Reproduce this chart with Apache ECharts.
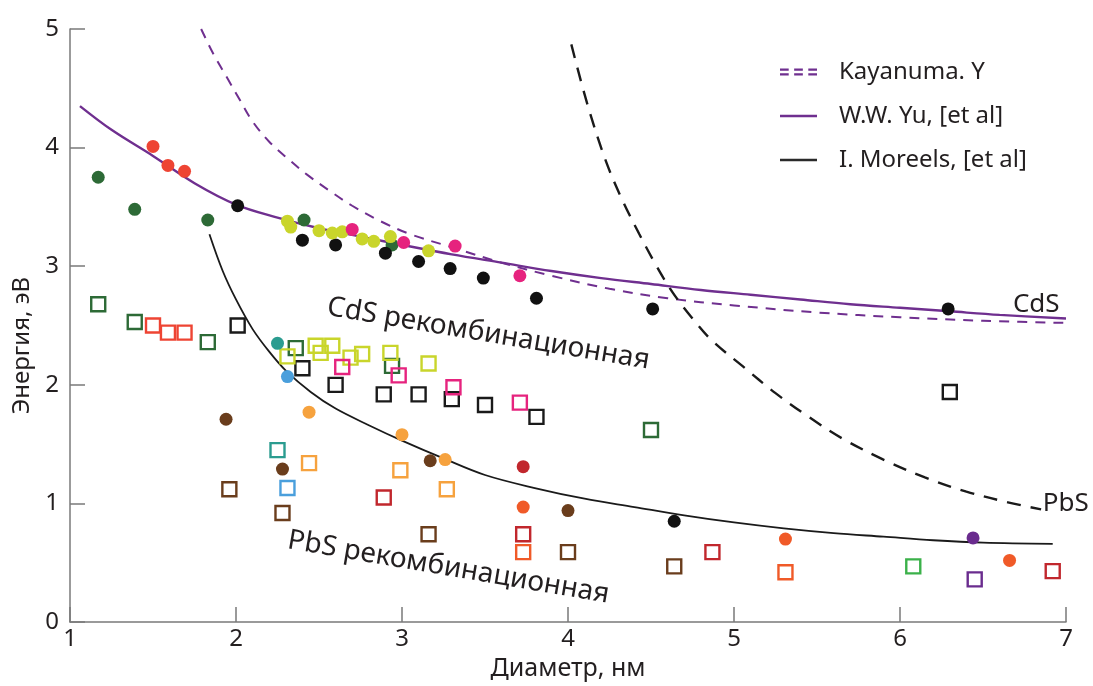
<!DOCTYPE html>
<html>
<head>
<meta charset="utf-8">
<script src="https://cdn.jsdelivr.net/npm/echarts@6/dist/echarts.min.js"></script>
<style>
  html, body { margin: 0; padding: 0; background: #ffffff; }
  #chart { width: 1093px; height: 686px; }
</style>
</head>
<body>
<div id="chart"></div>
<script>
// ---- Axis ticks ----
const xTicks = [1, 2, 3, 4, 5, 6, 7];
const yTicks = [0, 1, 2, 3, 4, 5];

// ---- Model curves ----
const yuCdS = [[1.06,4.35],[1.25,4.15],[1.5,3.93],[1.75,3.70],[2.0,3.52],[2.25,3.41],[2.5,3.32],[2.75,3.25],[3.0,3.18],[3.3,3.10],[3.6,3.03],[3.9,2.96],[4.2,2.90],[4.5,2.85],[4.8,2.80],[5.1,2.76],[5.4,2.72],[5.7,2.68],[6.0,2.65],[6.3,2.62],[6.6,2.59],[7.0,2.56]];
const kayanumaCdS = [[1.79,5.0],[1.86,4.80],[1.95,4.58],[2.02,4.41],[2.10,4.22],[2.20,4.05],[2.31,3.91],[2.43,3.77],[2.57,3.63],[2.70,3.51],[2.87,3.38],[3.05,3.27],[3.3,3.16],[3.6,3.03],[3.9,2.92],[4.25,2.81],[4.6,2.73],[5.0,2.67],[5.5,2.61],[6.0,2.57],[6.5,2.54],[7.07,2.52]];
const kayanumaPbS = [[4.02,4.87],[4.12,4.35],[4.23,3.88],[4.33,3.55],[4.43,3.27],[4.53,3.01],[4.63,2.78],[4.75,2.56],[4.87,2.37],[5.05,2.16],[5.25,1.93],[5.45,1.73],[5.65,1.55],[5.9,1.37],[6.15,1.22],[6.4,1.10],[6.65,1.01],[6.85,0.95]];
const moreelsPbS = [[1.84,3.27],[1.92,2.96],[2.0,2.72],[2.1,2.47],[2.2,2.28],[2.3,2.12],[2.45,1.94],[2.6,1.80],[2.8,1.66],[3.0,1.53],[3.25,1.38],[3.5,1.24],[3.8,1.13],[4.1,1.04],[4.4,0.97],[4.7,0.90],[5.0,0.84],[5.3,0.79],[5.6,0.75],[5.9,0.72],[6.2,0.69],[6.5,0.67],[6.92,0.66]];

// ---- Filled circles (CdS) ----
const dotsDarkGreen = [[1.17,3.75],[1.39,3.48],[1.83,3.39],[2.41,3.39],[2.94,3.18]];
const dotsRed = [[1.50,4.01],[1.59,3.85],[1.69,3.80]];
const dotsBlackCdS = [[2.01,3.51],[2.40,3.22],[2.60,3.18],[2.90,3.11],[3.10,3.04],[3.29,2.98],[3.49,2.90],[3.81,2.73],[4.51,2.64],[6.29,2.64]];
const dotsYellow = [[2.31,3.38],[2.33,3.33],[2.50,3.30],[2.58,3.28],[2.64,3.29],[2.76,3.23],[2.83,3.21],[2.93,3.25],[3.16,3.13]];
const dotsPink = [[2.70,3.31],[3.01,3.20],[3.32,3.17],[3.71,2.92]];
// ---- Filled circles (PbS) ----
const dotsTeal = [[2.25,2.35]];
const dotsBlue = [[2.31,2.07]];
const dotsLightOrange = [[2.44,1.77],[3.00,1.58],[3.26,1.37]];
const dotsBrown = [[1.94,1.71],[2.28,1.29],[3.17,1.36],[4.00,0.94]];
const dotsDarkRed = [[3.73,1.31]];
const dotsOrangeRed = [[3.73,0.97],[5.31,0.70],[6.66,0.52]];
const dotsBlackPbS = [[4.64,0.85]];
const dotsPurple = [[6.44,0.71]];

// ---- Open squares ----
const sqDarkGreen = [[1.17,2.68],[1.39,2.53],[1.83,2.36],[2.36,2.31],[2.94,2.16],[4.50,1.62]];
const sqRed = [[1.50,2.50],[1.59,2.44],[1.69,2.44]];
const sqBlack = [[2.01,2.50],[2.40,2.14],[2.60,2.00],[2.89,1.92],[3.10,1.92],[3.30,1.88],[3.50,1.83],[3.81,1.73],[6.30,1.94]];
const sqYellow = [[2.31,2.24],[2.48,2.33],[2.51,2.27],[2.58,2.33],[2.69,2.23],[2.76,2.26],[2.93,2.27],[3.16,2.18]];
const sqPink = [[2.64,2.15],[2.98,2.08],[3.31,1.98],[3.71,1.85]];
const sqTeal = [[2.25,1.45]];
const sqBlue = [[2.31,1.13]];
const sqLightOrange = [[2.44,1.34],[2.99,1.28],[3.27,1.12]];
const sqBrown = [[1.96,1.12],[2.28,0.92],[3.16,0.74],[4.00,0.59],[4.64,0.47]];
const sqDarkRed = [[2.89,1.05],[3.73,0.74],[4.87,0.59],[6.92,0.43]];
const sqOrangeRed = [[3.73,0.59],[5.31,0.42]];
const sqLightGreen = [[6.08,0.47]];
const sqPurple = [[6.45,0.36]];

// ---- Text ----
const legendNames = ['Kayanuma. Y', 'W.W. Yu, [et al]', 'I. Moreels, [et al]'];
const xAxisName = 'Диаметр, нм';
const yAxisName = 'Энергия, эВ';
const annotations = [
  { text: 'CdS рекомбинационная', at: [3.52, 2.43], rot: -9.5, align: 'center', size: 28 },
  { text: 'PbS рекомбинационная', at: [3.28, 0.46], rot: -9.7, align: 'center', size: 28 },
  { text: 'CdS', at: [6.68, 2.68], rot: 0, align: 'left', size: 26 },
  { text: 'PbS', at: [6.86, 1.00], rot: 0, align: 'left', size: 26 }
];

const FONT = 'Noto Sans';
const TXT = '#231f20';
const PURPLE = '#6f2f8f';

const chart = echarts.init(document.getElementById('chart'), null, { renderer: 'canvas' });

function dots(name, data, color) {
  return { name, type: 'scatter', data, symbol: 'circle', symbolSize: 13,
    itemStyle: { color, opacity: 1 }, z: 4, silent: true };
}
function squares(name, data, color) {
  return { name, type: 'scatter', data, symbol: 'rect', symbolSize: 14,
    itemStyle: { color: 'rgba(255,255,255,0)', borderColor: color, borderWidth: 2.4, opacity: 1 }, z: 3, silent: true };
}

const series = [
  { name: legendNames[0], type: 'line', data: kayanumaCdS, smooth: 0.35, symbol: 'none', clip: false,
    lineStyle: { color: PURPLE, width: 2, type: [10, 8] }, itemStyle: { color: PURPLE }, z: 2 },
  { name: legendNames[0] + ' PbS', type: 'line', data: kayanumaPbS, smooth: 0.35, symbol: 'none',
    lineStyle: { color: '#1a1a1a', width: 2.4, type: [14, 10] }, itemStyle: { color: '#1a1a1a' }, z: 2 },
  { name: legendNames[1], type: 'line', data: yuCdS, smooth: 0.35, symbol: 'none',
    lineStyle: { color: PURPLE, width: 2.4 }, itemStyle: { color: PURPLE }, z: 2 },
  { name: legendNames[2], type: 'line', data: moreelsPbS, smooth: 0.35, symbol: 'none',
    lineStyle: { color: '#1a1a1a', width: 1.8 }, itemStyle: { color: '#1a1a1a' }, z: 2 },

  squares('sqDarkGreen', sqDarkGreen, '#2d6a36'),
  squares('sqRed', sqRed, '#ee4433'),
  squares('sqBlack', sqBlack, '#1a1a1a'),
  squares('sqYellow', sqYellow, '#c9d52b'),
  squares('sqPink', sqPink, '#e6237e'),
  squares('sqTeal', sqTeal, '#2b9c90'),
  squares('sqBlue', sqBlue, '#4a9fdc'),
  squares('sqLightOrange', sqLightOrange, '#f6a23e'),
  squares('sqBrown', sqBrown, '#6a3d1c'),
  squares('sqDarkRed', sqDarkRed, '#c1272d'),
  squares('sqOrangeRed', sqOrangeRed, '#f05a28'),
  squares('sqLightGreen', sqLightGreen, '#3bb14a'),
  squares('sqPurple', sqPurple, '#6a2c8e'),

  dots('dotsDarkGreen', dotsDarkGreen, '#2d6a36'),
  dots('dotsRed', dotsRed, '#ee4433'),
  dots('dotsBlackCdS', dotsBlackCdS, '#111111'),
  dots('dotsYellow', dotsYellow, '#c9d52b'),
  dots('dotsPink', dotsPink, '#e6237e'),
  dots('dotsTeal', dotsTeal, '#2b9c90'),
  dots('dotsBlue', dotsBlue, '#4a9fdc'),
  dots('dotsLightOrange', dotsLightOrange, '#f6a23e'),
  dots('dotsBrown', dotsBrown, '#6a3d1c'),
  dots('dotsDarkRed', dotsDarkRed, '#c1272d'),
  dots('dotsOrangeRed', dotsOrangeRed, '#f05a28'),
  dots('dotsBlackPbS', dotsBlackPbS, '#111111'),
  dots('dotsPurple', dotsPurple, '#6a2c8e')
];

const option = {
  animation: false,
  backgroundColor: '#ffffff',
  textStyle: { fontFamily: FONT },
  grid: { left: 70, right: 27, top: 29, bottom: 57, containLabel: false },
  legend: {
    orient: 'vertical', left: 775, top: 52, itemWidth: 37, itemHeight: 14, itemGap: 14,
    selectedMode: false,
    textStyle: { fontFamily: FONT, fontSize: 24, color: TXT, lineHeight: 30, padding: [0, 0, 0, 17] },
    data: [
      { name: legendNames[0], icon: 'path://M0,0 H8 V2.2 H0 Z M13,0 H21 V2.2 H13 Z M26,0 H34 V2.2 H26 Z M0,4.4 H8 V6.6 H0 Z M13,4.4 H21 V6.6 H13 Z M26,4.4 H34 V6.6 H26 Z', itemStyle: { color: PURPLE } },
      { name: legendNames[1], icon: 'path://M0,0 H37 V2.5 H0 Z', itemStyle: { color: PURPLE } },
      { name: legendNames[2], icon: 'path://M0,0 H37 V2.5 H0 Z', itemStyle: { color: '#2a2a2a' } }
    ]
  },
  xAxis: {
    type: 'value', min: xTicks[0], max: xTicks[xTicks.length - 1], interval: 1,
    name: xAxisName, nameLocation: 'middle', nameGap: 27,
    nameTextStyle: { fontFamily: FONT, fontSize: 25, color: TXT },
    axisLine: { show: true, lineStyle: { color: '#7a7a7a', width: 1.5 } },
    axisTick: { show: true, inside: true, length: 15, lineStyle: { color: '#7a7a7a', width: 1.5 } },
    axisLabel: { fontFamily: FONT, fontSize: 24, color: TXT, margin: 5 },
    splitLine: { show: false }
  },
  yAxis: {
    type: 'value', min: yTicks[0], max: yTicks[yTicks.length - 1], interval: 1,
    name: yAxisName, nameLocation: 'middle', nameGap: 29, nameRotate: 90,
    nameTextStyle: { fontFamily: FONT, fontSize: 24, color: TXT, padding: [0, 40, 0, 0] },
    axisLine: { show: true, lineStyle: { color: '#7a7a7a', width: 1.5 } },
    axisTick: { show: true, inside: true, length: 15, lineStyle: { color: '#7a7a7a', width: 1.5 } },
    axisLabel: { fontFamily: FONT, fontSize: 24, color: TXT, margin: 11 },
    splitLine: { show: false }
  },
  series
};

chart.setOption(option);

const graphics = annotations.map(a => {
  const p = chart.convertToPixel({ gridIndex: 0 }, a.at);
  return {
    type: 'text', x: p[0], y: p[1], rotation: a.rot * Math.PI / 180, z: 10,
    style: { text: a.text, fontFamily: FONT, fontSize: a.size, fill: TXT,
      textAlign: a.align, textVerticalAlign: 'middle' }
  };
});
chart.setOption({ graphic: graphics });
</script>
</body>
</html>
